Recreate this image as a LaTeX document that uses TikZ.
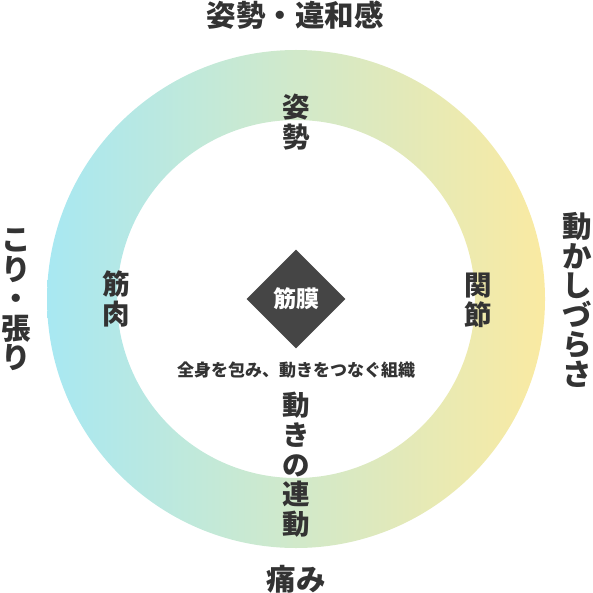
\documentclass[tikz,border=0pt]{standalone}
\usepackage{fontspec}
\setmainfont{Noto Sans CJK JP}[BoldFont={Noto Sans CJK JP Black}]
\definecolor{ringcyan}{HTML}{A8E8F2}
\definecolor{ringmint}{HTML}{C8ECD6}
\definecolor{ringyellow}{HTML}{FAEAA2}
\definecolor{txtgray}{HTML}{333333}
\definecolor{diagray}{HTML}{454545}
\usetikzlibrary{shapes.geometric}

\begin{document}
\begin{tikzpicture}[x=1pt,y=-1pt,
  outerlbl/.style={text=txtgray,font=\bfseries\fontsize{29.5}{29.5}\selectfont,align=center,inner sep=0pt},
  innerlbl/.style={text=txtgray,font=\bfseries\fontsize{27.5}{29.7}\selectfont,align=center,inner sep=0pt}]
\useasboundingbox (0,0) rectangle (593,593);
\coordinate (O) at (296,299);
%ring
\shade[left color=ringcyan,middle color=ringmint,right color=ringyellow,even odd rule] (O) circle (249) (O) circle (179);
%center
\node (fascia) [diamond,fill=diagray,minimum width=99pt,minimum height=99pt,inner sep=0pt,text=white,font=\bfseries\fontsize{23}{25}\selectfont] at (O) {筋膜};
\node (desc) [text=txtgray,font=\bfseries\fontsize{17}{18}\selectfont,inner sep=0pt] at (296,370) {全身を包み、動きをつなぐ組織};
%inside the ring
\node (posture) [innerlbl] at (296,122) {姿\\勢};
\node (muscle) [innerlbl] at (116,299) {筋\\肉};
\node (joint) [innerlbl] at (478,300) {関\\節};
\node (linkage) [innerlbl] at (296,465) {動\\き\\の\\連\\動};
%outside the ring
\node (discomfort) [outerlbl] at (295,15) {姿勢・違和感};
\node (pain) [outerlbl] at (296,579) {痛み};
\node (stiffness) [outerlbl] at (16,300) {こ\\り\\・\\張\\り};
\node (stiffmove) [outerlbl] at (577,300) {動\\か\\し\\づ\\ら\\さ};
\end{tikzpicture}
\end{document}
